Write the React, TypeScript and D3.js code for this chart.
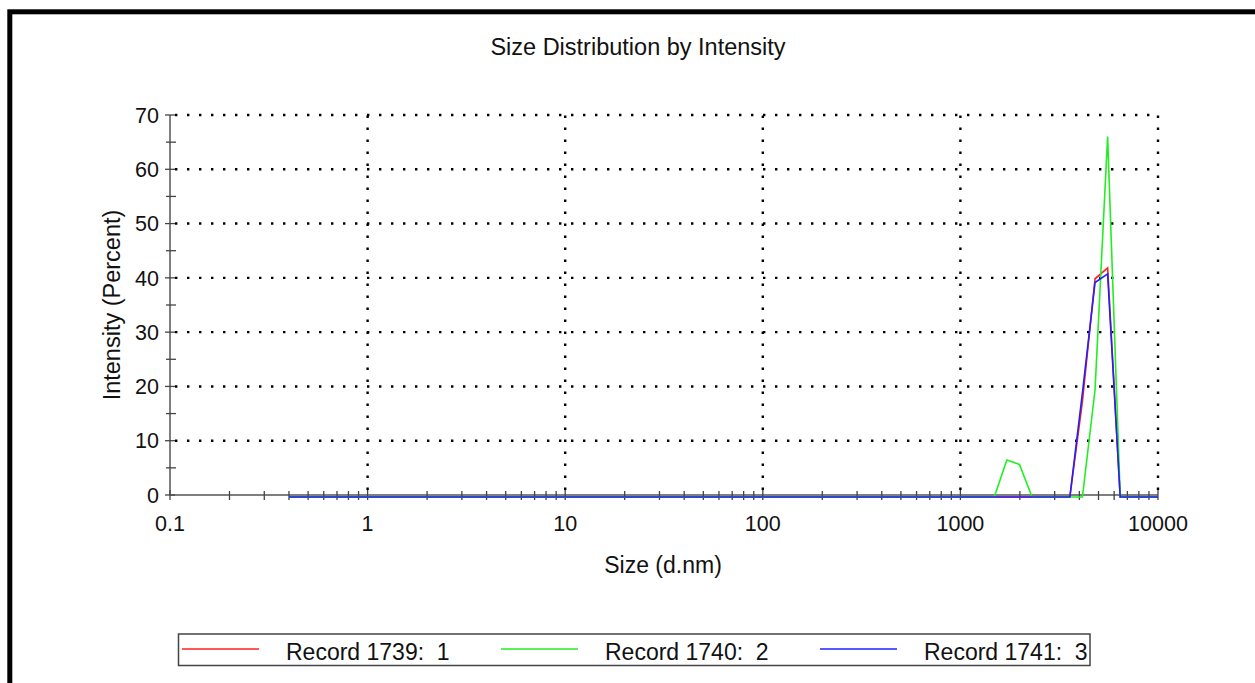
import React from "react";
import * as d3 from "d3";

// Malvern size bins (d.nm)
const sizes = [
  0.4, 0.4632, 0.5365, 0.6213, 0.7195, 0.8332, 0.9649, 1.117, 1.294, 1.499,
  1.736, 2.01, 2.328, 2.696, 3.122, 3.615, 4.187, 4.849, 5.615, 6.503,
  7.531, 8.721, 10.1, 11.7, 13.54, 15.69, 18.17, 21.04, 24.36, 28.21,
  32.67, 37.84, 43.82, 50.75, 58.77, 68.06, 78.82, 91.28, 105.7, 122.4,
  141.8, 164.2, 190.1, 220.2, 255.0, 295.3, 342.0, 396.1, 458.7, 531.2,
  615.1, 712.4, 825.0, 955.4, 1106, 1281, 1484, 1718, 1990, 2305,
  2669, 3091, 3580, 4145, 4801, 5560, 6439, 7456, 8635, 10000,
];

const record1739 = [
  0, 0, 0, 0, 0, 0, 0, 0, 0, 0,
  0, 0, 0, 0, 0, 0, 0, 0, 0, 0,
  0, 0, 0, 0, 0, 0, 0, 0, 0, 0,
  0, 0, 0, 0, 0, 0, 0, 0, 0, 0,
  0, 0, 0, 0, 0, 0, 0, 0, 0, 0,
  0, 0, 0, 0, 0, 0, 0, 0, 0, 0,
  0, 0, 0, 17.6, 40.2, 42.2, 0, 0, 0, 0,
];

const record1740 = [
  0, 0, 0, 0, 0, 0, 0, 0, 0, 0,
  0, 0, 0, 0, 0, 0, 0, 0, 0, 0,
  0, 0, 0, 0, 0, 0, 0, 0, 0, 0,
  0, 0, 0, 0, 0, 0, 0, 0, 0, 0,
  0, 0, 0, 0, 0, 0, 0, 0, 0, 0,
  0, 0, 0, 0, 0, 0, 0, 6.8, 6.0, 0,
  0, 0, 0, 0, 19.7, 66.4, 0, 0, 0, 0,
];

const record1741 = [
  0, 0, 0, 0, 0, 0, 0, 0, 0, 0,
  0, 0, 0, 0, 0, 0, 0, 0, 0, 0,
  0, 0, 0, 0, 0, 0, 0, 0, 0, 0,
  0, 0, 0, 0, 0, 0, 0, 0, 0, 0,
  0, 0, 0, 0, 0, 0, 0, 0, 0, 0,
  0, 0, 0, 0, 0, 0, 0, 0, 0, 0,
  0, 0, 0, 19.2, 39.5, 41.1, 0, 0, 0, 0,
];

const xTicks = [0.1, 1, 10, 100, 1000, 10000];
const xTickLabels = ["0.1", "1", "10", "100", "1000", "10000"];
const yTicks = [0, 10, 20, 30, 40, 50, 60, 70];

const series = [
  { name: "Record 1739:  1", values: record1739, color: "#ff2020" },
  { name: "Record 1740:  2", values: record1740, color: "#22ee22" },
  { name: "Record 1741:  3", values: record1741, color: "#2020ff" },
];

const font = "'Liberation Sans', Arial, sans-serif";

export default function App() {
  const x = d3.scaleLog().domain([0.1, 10000]).range([170, 1158]);
  const y = d3.scaleLinear().domain([0, 70]).range([495, 115]);

  const minorX: number[] = [];
  for (let d = 0.1; d < 10000; d *= 10) {
    for (let k = 2; k <= 9; k++) minorX.push(d * k);
  }
  const minorY = d3.range(5, 70, 10);

  const line = d3
    .line<number>()
    .x((_, i) => x(sizes[i]))
    .y((v) => y(v));

  const [x0, x1] = x.range();
  const [y0, y1] = y.range();

  return (
    <svg
      width={1255}
      height={683}
      style={{ position: "absolute", left: 0, top: 0, background: "#fff" }}
      fontFamily={font}
    >
      <rect x={9.8} y={11.8} width={2000} height={2000} fill="none" stroke="#000" strokeWidth={5} />

      <text x={638} y={55} textAnchor="middle" fontSize={23.5} fill="#111">
        Size Distribution by Intensity
      </text>

      {/* grid */}
      {yTicks.slice(1).map((t) => (
        <line key={"gy" + t} x1={x0 + 5} x2={x1} y1={y(t)} y2={y(t)}
          stroke="#000" strokeWidth={2.4} strokeDasharray="2.4 9.6" />
      ))}
      {xTicks.slice(1).map((t) => (
        <line key={"gx" + t} x1={x(t)} x2={x(t)} y1={y0 - 5} y2={y1}
          stroke="#000" strokeWidth={2.4} strokeDasharray="2.4 9.6" />
      ))}

      {/* axes */}
      <line x1={x0} x2={x0} y1={y1} y2={y0} stroke="#555" strokeWidth={1.5} />
      <line x1={x0} x2={x1} y1={y0} y2={y0} stroke="#555" strokeWidth={1.5} />
      {yTicks.map((t) => (
        <line key={"ty" + t} x1={x0 - 5} x2={x0 + 5} y1={y(t)} y2={y(t)} stroke="#444" strokeWidth={1.3} />
      ))}
      {minorY.map((t) => (
        <line key={"my" + t} x1={x0 - 4} x2={x0 + 6} y1={y(t)} y2={y(t)} stroke="#444" strokeWidth={1.3} />
      ))}
      {xTicks.map((t) => (
        <line key={"tx" + t} x1={x(t)} x2={x(t)} y1={y0 - 5} y2={y0 + 5} stroke="#444" strokeWidth={1.3} />
      ))}
      {minorX.map((t) => (
        <line key={"mx" + t} x1={x(t)} x2={x(t)} y1={y0 - 4} y2={y0 + 5} stroke="#444" strokeWidth={1.3} />
      ))}

      {yTicks.map((t) => (
        <text key={"ly" + t} x={159} y={y(t)} dy="0.36em" textAnchor="end" fontSize={21.5} fill="#111">
          {t}
        </text>
      ))}
      {xTicks.map((t, i) => (
        <text key={"lx" + t} x={x(t)} y={531} textAnchor="middle" fontSize={21.5} fill="#111">
          {xTickLabels[i]}
        </text>
      ))}

      <text x={663} y={573} textAnchor="middle" fontSize={23} fill="#111">
        Size (d.nm)
      </text>
      <text transform="translate(120,305) rotate(-90)" textAnchor="middle" fontSize={23.5} fill="#111">
        Intensity (Percent)
      </text>

      {/* series */}
      <g transform="translate(0,2)">
        {series.map((s) => (
          <path key={s.name} d={line(s.values) || ""} fill="none" stroke={s.color} strokeWidth={1.6} />
        ))}
      </g>

      {/* legend */}
      <rect x={178.5} y={634} width={911.5} height={31.5} fill="#fff" stroke="#444" strokeWidth={1.5} />
      {series.map((s, i) => {
        const lx = [182, 501, 820][i];
        return (
          <g key={"lg" + s.name}>
            <line x1={lx} x2={lx + 77} y1={649} y2={649} stroke={s.color} strokeWidth={1.5} />
            <text x={lx + 104} y={660} fontSize={23} fill="#111" style={{ whiteSpace: "pre" }}>
              {s.name}
            </text>
          </g>
        );
      })}
    </svg>
  );
}
